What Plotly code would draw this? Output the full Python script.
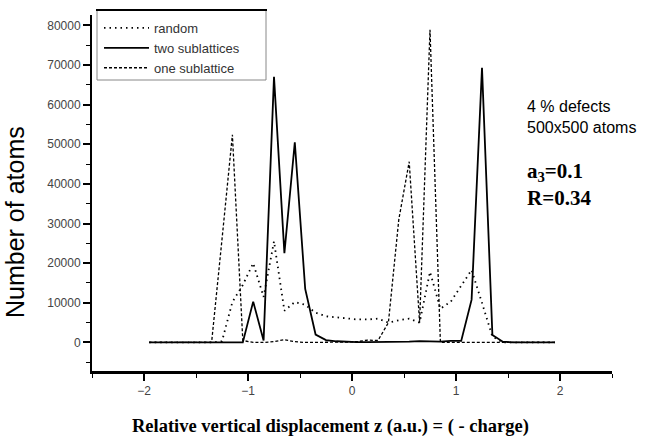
import plotly.graph_objects as go

# ---- data (bin centres, counts) ----
z = [-1.95, -1.85, -1.75, -1.65, -1.55, -1.45, -1.35, -1.25, -1.15, -1.05,
     -0.95, -0.85, -0.75, -0.65, -0.55, -0.45, -0.35, -0.25, -0.15, -0.05,
     0.05, 0.15, 0.25, 0.35, 0.45, 0.55, 0.65, 0.75, 0.85, 0.95,
     1.05, 1.15, 1.25, 1.35, 1.45, 1.55, 1.65, 1.75, 1.85, 1.95]

random_ = [0, 0, 0, 0, 0, 0, 0, 300, 10200, 14500,
           20000, 11500, 25500, 8000, 10200, 9500, 7500, 6600, 6300, 6000,
           5800, 5800, 6000, 5000, 5600, 6000, 5000, 17800, 8500, 10300,
           14200, 18300, 10000, 1500, 0, 0, 0, 0, 0, 0]

two_sub = [0, 0, 0, 0, 0, 0, 0, 0, 0, 0,
           10300, 500, 67000, 22500, 50500, 13500, 2000, 600, 300, 150,
           100, 100, 100, 100, 100, 200, 350, 350, 200, 400,
           400, 10800, 69300, 1900, 200, 0, 0, 0, 0, 0]

one_sub = [0, 0, 0, 0, 0, 0, 0, 26000, 52400, 500,
           0, 0, 200, 700, 200, 0, 0, 0, 0, 100,
           200, 600, 500, 5000, 31000, 45600, 5000, 78900, 0, 0,
           0, 0, 0, 0, 0, 0, 0, 0, 0, 0]

names = ["random", "two sublattices", "one sublattice"]

W, H = 650, 445
L, R, T, B = 92, 38, 15, 74
pw, ph = W - L - R, H - T - B


def px(x):
    return (x - L) / pw


def py(y):
    return (H - B - y) / ph


fig = go.Figure()
fig.add_trace(go.Scatter(x=z, y=random_, mode="lines", name=names[0],
                         line=dict(color="black", width=1.8, dash="1.5px,4px")))
fig.add_trace(go.Scatter(x=z, y=two_sub, mode="lines", name=names[1],
                         line=dict(color="black", width=1.8)))
fig.add_trace(go.Scatter(x=z, y=one_sub, mode="lines", name=names[2],
                         line=dict(color="black", width=1.3, dash="3px,2px")))

fig.update_layout(
    width=W, height=H,
    margin=dict(l=L, r=R, t=T, b=B, pad=0),
    paper_bgcolor="white", plot_bgcolor="white",
    font=dict(family="Liberation Sans, Arial, sans-serif", color="#333"),
    showlegend=True,
    legend=dict(x=px(99), y=py(13), xanchor="left", yanchor="top",
                bgcolor="rgba(0,0,0,0)", borderwidth=0,
                font=dict(size=13, color="#333", family="Liberation Sans, Arial"),
                itemwidth=45, tracegroupgap=0),
    xaxis=dict(range=[-2.5, 2.5], tick0=0, dtick=1, showgrid=False, zeroline=False,
               showline=True, linecolor="black", linewidth=2.5,
               ticks="outside", ticklen=7, tickwidth=1.5, tickcolor="black",
               tickfont=dict(size=12, color="#444"),
               minor=dict(dtick=0.5, ticks="outside", ticklen=4, tickwidth=1.2,
                          tickcolor="black", showgrid=False)),
    yaxis=dict(range=[-7200, 82600], tick0=0, dtick=10000, showgrid=False,
               zeroline=False, tickformat="d",
               showline=True, linecolor="black", linewidth=2,
               ticks="outside", ticklen=7, tickwidth=1.5, tickcolor="black",
               tickfont=dict(size=12, color="#444"),
               minor=dict(dtick=5000, ticks="outside", ticklen=4, tickwidth=1.2,
                          tickcolor="black", showgrid=False)),
)

# legend frame
fig.add_shape(type="rect", xref="paper", yref="paper",
              x0=px(97), x1=px(266), y0=py(80), y1=py(10),
              line=dict(color="#888", width=1), fillcolor="rgba(0,0,0,0)")
fig.add_shape(type="line", xref="paper", yref="paper",
              x0=px(96), x1=px(267), y0=py(10), y1=py(10),
              line=dict(color="black", width=2))

ann = [
    dict(text="4 % defects", x=px(525), y=py(107), size=16,
         family="Liberation Sans, Arial"),
    dict(text="500x500 atoms", x=px(525), y=py(127), size=16,
         family="Liberation Sans, Arial"),
    dict(text="<b>a<sub>3</sub>=0.1</b>", x=px(525), y=py(172), size=21,
         family="Liberation Serif, Times New Roman, serif"),
    dict(text="<b>R=0.34</b>", x=px(525), y=py(198), size=21,
         family="Liberation Serif, Times New Roman, serif"),
]
for a in ann:
    fig.add_annotation(text=a["text"], xref="paper", yref="paper", x=a["x"], y=a["y"],
                       xanchor="left", yanchor="middle", showarrow=False,
                       font=dict(size=a["size"], family=a["family"], color="black"))

fig.add_annotation(text="Number of atoms", xref="paper", yref="paper",
                   x=px(15), y=py(222), xanchor="center", yanchor="middle",
                   textangle=-90, showarrow=False,
                   font=dict(size=25, family="Liberation Sans, Arial", color="black"))
fig.add_annotation(text="<b>Relative vertical displacement z (a.u.) = ( - charge)</b>",
                   xref="paper", yref="paper", x=px(330), y=py(426),
                   xanchor="center", yanchor="middle", showarrow=False,
                   font=dict(size=18.5, family="Liberation Serif, Times New Roman, serif",
                             color="black"))

fig.write_html("out.html")
